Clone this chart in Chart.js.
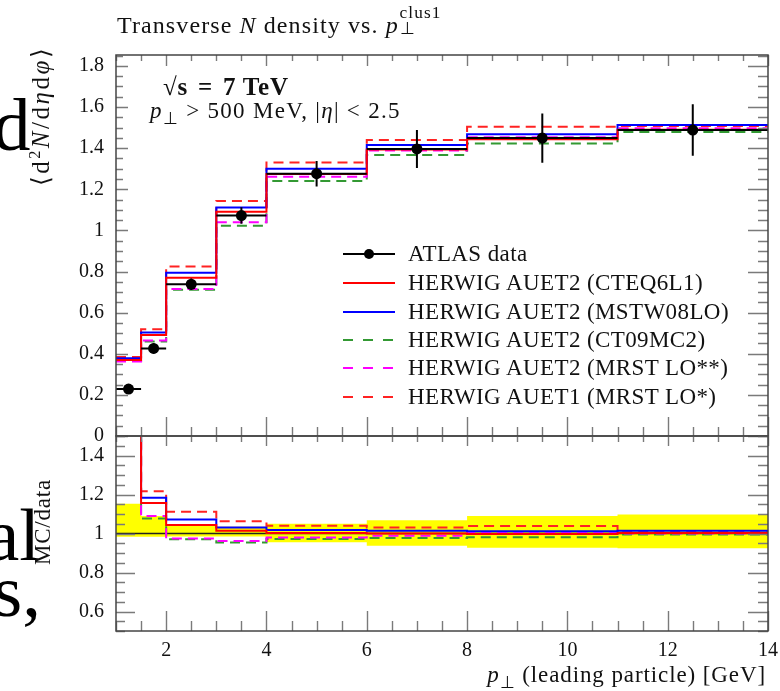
<!DOCTYPE html>
<html><head><meta charset="utf-8">
<script src="https://cdn.jsdelivr.net/npm/chart.js@4.4.1/dist/chart.umd.min.js"></script>
<style>
html,body{margin:0;padding:0;background:#fff;width:780px;height:691px;overflow:hidden;}
#wrap{position:relative;width:780px;height:691px;font-family:"Liberation Serif",serif;color:#111;}
canvas{position:absolute;left:0;}
#cMain{top:0;}
#cRatio{top:400px;}
.t{position:absolute;white-space:nowrap;line-height:1;}
.big{font-size:75px;color:#000;}
.ss{position:relative;display:inline-block;width:1.9em;height:1em;}
.ss .sp{position:absolute;left:0.05em;top:-0.3em;font-size:0.72em;}
.ss .sb{position:absolute;left:0.05em;top:0.62em;font-size:0.72em;}
</style></head>
<body><div id="wrap">
<canvas id="cMain" width="780" height="470"></canvas>
<canvas id="cRatio" width="780" height="291"></canvas>

<div class="t big" style="left:-7px;top:87px;">d</div>
<div class="t big" style="left:-14px;top:497px;">al</div>
<div class="t big" style="left:-7px;top:553px;">s,</div>

<div class="t" style="left:117px;top:9px;font-size:24px;letter-spacing:1.1px;">Transverse <i>N</i> density vs. <i>p</i><span class="ss"><span class="sp">clus1</span><span class="sb">⊥</span></span></div>

<div class="t" style="left:163px;top:74px;font-size:25px;font-weight:bold;letter-spacing:0.8px;">√s&#8202; = &#8202;7 TeV</div>
<div class="t" style="left:150px;top:99px;font-size:23px;letter-spacing:1.3px;"><i>p</i><sub style="font-size:0.72em;">⊥</sub> &gt; 500 MeV, |<i>η</i>| &lt; 2.5</div>

<div class="t" style="left:40px;top:116px;font-size:25px;letter-spacing:2.5px;transform:translate(-50%,-50%) rotate(-90deg);">⟨d<sup style="font-size:0.65em;">2</sup><i>N</i>/d<i>η</i>d<i>φ</i>⟩</div>
<div class="t" style="left:42px;top:522px;font-size:23px;letter-spacing:0.8px;transform:translate(-50%,-50%) rotate(-90deg);">MC/data</div>
<div class="t" style="right:14px;top:663px;font-size:23px;letter-spacing:0.9px;"><i>p</i><sub style="font-size:0.72em;">⊥</sub> (leading particle) [GeV]</div>

<svg class="t" style="left:336px;top:240px;" width="66" height="170">
  <line x1="7" y1="14" x2="59" y2="14" stroke="#000" stroke-width="2"/>
  <circle cx="33" cy="14" r="5" fill="#000"/>
  <line x1="7" y1="43" x2="59" y2="43" stroke="#ff0000" stroke-width="2"/>
  <line x1="7" y1="72" x2="59" y2="72" stroke="#0000ff" stroke-width="2"/>
  <line x1="7" y1="100" x2="59" y2="100" stroke="#339933" stroke-width="2" stroke-dasharray="10,10"/>
  <line x1="7" y1="128" x2="59" y2="128" stroke="#ff00ff" stroke-width="2" stroke-dasharray="10,10"/>
  <line x1="7" y1="157" x2="59" y2="157" stroke="#ff2222" stroke-width="2" stroke-dasharray="10,10"/>
</svg>
<div class="t" style="left:408px;top:242px;font-size:23px;letter-spacing:0.4px;">ATLAS data</div>
<div class="t" style="left:408px;top:271px;font-size:23px;letter-spacing:0.4px;">HERWIG AUET2 (CTEQ6L1)</div>
<div class="t" style="left:408px;top:300px;font-size:23px;letter-spacing:0.4px;">HERWIG AUET2 (MSTW08LO)</div>
<div class="t" style="left:408px;top:328px;font-size:23px;letter-spacing:0.4px;">HERWIG AUET2 (CT09MC2)</div>
<div class="t" style="left:408px;top:356px;font-size:23px;letter-spacing:0.4px;">HERWIG AUET2 (MRST LO**)</div>
<div class="t" style="left:408px;top:385px;font-size:23px;letter-spacing:0.4px;">HERWIG AUET1 (MRST LO*)</div>
</div>

<script>
// ---- data ----
const binEdges   = [1, 1.5, 2, 3, 4, 6, 8, 11, 14];
const binCentres = [1.25, 1.75, 2.5, 3.5, 5, 7, 9.5, 12.5];
const atlasData  = [0.228, 0.426, 0.738, 1.072, 1.276, 1.396, 1.449, 1.488];
const atlasErr   = [0.022, 0.025, 0.028, 0.040, 0.062, 0.092, 0.120, 0.125];

const herwigCTEQ6L1  = [0.370, 0.491, 0.770, 1.091, 1.274, 1.394, 1.443, 1.490];
const herwigMSTW08LO = [0.378, 0.503, 0.794, 1.111, 1.300, 1.415, 1.467, 1.512];
const herwigCT09MC2  = [0.366, 0.460, 0.711, 1.023, 1.240, 1.367, 1.422, 1.478];
const herwigMRSTLO2  = [0.362, 0.464, 0.715, 1.039, 1.261, 1.388, 1.453, 1.497];
const herwigAUET1    = [0.384, 0.519, 0.824, 1.143, 1.330, 1.440, 1.504, 1.508];

const ratioCTEQ6L1  = [1.62, 1.157, 1.044, 1.014, 1.002, 1.000, 0.997, 1.002];
const ratioMSTW08LO = [1.66, 1.183, 1.072, 1.031, 1.018, 1.014, 1.012, 1.014];
const ratioCT09MC2  = [1.60, 1.077, 0.970, 0.954, 0.972, 0.977, 0.981, 0.995];
const ratioMRSTLO2  = [1.59, 1.090, 0.974, 0.962, 0.980, 0.988, 1.005, 1.000];
const ratioAUET1    = [1.68, 1.217, 1.111, 1.063, 1.040, 1.031, 1.038, 1.008];
const ratioDataLine = [1, 1, 1, 1, 1, 1, 1, 1];
const ratioBandHi   = [1.153, 1.090, 1.040, 1.035, 1.050, 1.068, 1.090, 1.098];
const ratioBandLo   = [0.983, 0.983, 0.985, 0.985, 0.955, 0.937, 0.927, 0.925];

const xTickValues = [2, 4, 6, 8, 10, 12, 14];
const xTickLabels = ['2', '4', '6', '8', '10', '12', '14'];
const mainYTickValues = [0, 0.2, 0.4, 0.6, 0.8, 1, 1.2, 1.4, 1.6, 1.8];
const mainYTickLabels = ['0', '0.2', '0.4', '0.6', '0.8', '1', '1.2', '1.4', '1.6', '1.8'];
const ratioYTickValues = [0.6, 0.8, 1, 1.2, 1.4];
const ratioYTickLabels = ['0.6', '0.8', '1', '1.2', '1.4'];

// ---- helpers ----
function histPoints(vals){
  return binEdges.map((e, i) => ({x: e, y: vals[Math.min(i, vals.length - 1)]}));
}
function errorBarPoints(){
  const pts = [];
  binCentres.forEach((c, i) => {
    pts.push({x: binEdges[i], y: atlasData[i]}, {x: binEdges[i + 1], y: atlasData[i]}, {x: binEdges[i + 1], y: null});
    pts.push({x: c, y: atlasData[i] - atlasErr[i]}, {x: c, y: atlasData[i] + atlasErr[i]}, {x: c, y: null});
  });
  return pts;
}
function histDS(label, vals, color, dash){
  return {label, data: histPoints(vals), borderColor: color, borderWidth: 2, borderDash: dash || [],
    stepped: true, pointRadius: 0, fill: false, borderCapStyle: 'butt'};
}
function minorList(lo, hi, step){
  const out = [];
  for (let k = 0; lo + k * step <= hi + 1e-9; k++) out.push(+(lo + k * step).toFixed(4));
  return out;
}
const FONT = {family: 'Liberation Serif', size: 20};
const noPad = s => { s.paddingLeft = 0; s.paddingRight = 0; s.paddingTop = 0; s.paddingBottom = 0; };

const frameTicks = {
  id: 'frameTicks',
  afterDatasetsDraw(chart, args, o){
    const {ctx, chartArea: a} = chart;
    const xs = chart.scales.x, ys = chart.scales.y;
    const isMaj = (list, v) => list.some(m => Math.abs(m - v) < 1e-6);
    ctx.save();
    ctx.strokeStyle = '#7a7a7a';
    ctx.lineWidth = 1.4;
    ctx.beginPath();
    o.xMinor.forEach(v => {
      const p = Math.round(xs.getPixelForValue(v)) + 0.5;
      const m = isMaj(o.xMajor, v);
      ctx.moveTo(p, a.top); ctx.lineTo(p, a.top + (m ? o.topMaj : o.topMin));
      ctx.moveTo(p, a.bottom); ctx.lineTo(p, a.bottom - (m ? o.botMaj : o.botMin));
    });
    o.yMinor.forEach(v => {
      const p = Math.round(ys.getPixelForValue(v)) + 0.5;
      const m = isMaj(o.yMajor, v);
      ctx.moveTo(a.left, p); ctx.lineTo(a.left + (m ? o.leftMaj : o.leftMin), p);
      ctx.moveTo(a.right, p); ctx.lineTo(a.right - (m ? o.rightMaj : o.rightMin), p);
    });
    ctx.stroke();
    ctx.strokeStyle = '#444';
    ctx.lineWidth = 1.5;
    ctx.strokeRect(a.left, a.top, a.right - a.left, a.bottom - a.top);
    ctx.restore();
  }
};

const common = {
  responsive: false, animation: false, events: [],
  plugins: {legend: {display: false}, tooltip: {enabled: false}}
};

// ---- main panel ----
new Chart(document.getElementById('cMain'), {
  type: 'line',
  data: {datasets: [
    {label: 'ATLAS data', data: binCentres.map((x, i) => ({x, y: atlasData[i]})), showLine: false,
     pointRadius: 5.5, pointBackgroundColor: '#000', pointBorderWidth: 0},
    {label: 'ATLAS errors', data: errorBarPoints(), borderColor: '#000', borderWidth: 2, pointRadius: 0, spanGaps: false},
    histDS('HERWIG AUET2 (CTEQ6L1)', herwigCTEQ6L1, '#ff0000'),
    histDS('HERWIG AUET2 (MSTW08LO)', herwigMSTW08LO, '#0000ff'),
    histDS('HERWIG AUET2 (MRST LO**)', herwigMRSTLO2, '#ff00ff', [10, 6]),
    histDS('HERWIG AUET2 (CT09MC2)', herwigCT09MC2, '#339933', [10, 6]),
    histDS('HERWIG AUET1 (MRST LO*)', herwigAUET1, '#ff2222', [10, 6])
  ]},
  options: Object.assign({}, common, {
    layout: {padding: {left: 0, right: 12, top: 55, bottom: 34}},
    scales: {
      x: {type: 'linear', min: 1, max: 14, display: false},
      y: {type: 'linear', min: 0, max: 1.853,
        afterBuildTicks: s => { s.ticks = mainYTickValues.map(v => ({value: v})); },
        afterFit: s => { s.width = 116; noPad(s); },
        ticks: {callback: (v, i) => mainYTickLabels[i], font: FONT, color: '#111', padding: 12, autoSkip: false},
        grid: {display: false, drawTicks: false}, border: {display: false}}
    },
    plugins: Object.assign({}, common.plugins, {frameTicks: {
      xMajor: xTickValues, xMinor: minorList(1, 14, 0.5),
      yMajor: mainYTickValues, yMinor: minorList(0, 1.85, 0.05),
      topMaj: 11, topMin: 6, botMaj: 19, botMin: 9, leftMaj: 12, leftMin: 7, rightMaj: 20, rightMin: 10}})
  }),
  plugins: [frameTicks]
});

// ---- ratio panel ----
new Chart(document.getElementById('cRatio'), {
  type: 'line',
  data: {datasets: [
    histDS('HERWIG AUET2 (CTEQ6L1)', ratioCTEQ6L1, '#ff0000'),
    histDS('HERWIG AUET2 (MSTW08LO)', ratioMSTW08LO, '#0000ff'),
    histDS('HERWIG AUET2 (MRST LO**)', ratioMRSTLO2, '#ff00ff', [10, 6]),
    histDS('HERWIG AUET2 (CT09MC2)', ratioCT09MC2, '#339933', [10, 6]),
    histDS('HERWIG AUET1 (MRST LO*)', ratioAUET1, '#ff2222', [10, 6]),
    Object.assign(histDS('data', ratioDataLine, '#222'), {borderWidth: 1.3}),
    {label: 'band hi', data: histPoints(ratioBandHi), stepped: true, pointRadius: 0,
     borderColor: 'rgba(0,0,0,0)', backgroundColor: '#ffff00', fill: '+1'},
    {label: 'band lo', data: histPoints(ratioBandLo), stepped: true, pointRadius: 0,
     borderColor: 'rgba(0,0,0,0)', fill: false}
  ]},
  options: Object.assign({}, common, {
    layout: {padding: {left: 0, right: 12, top: 36, bottom: 0}},
    scales: {
      x: {type: 'linear', min: 1, max: 14,
        afterBuildTicks: s => { s.ticks = xTickValues.map(v => ({value: v})); },
        afterFit: s => { s.height = 60; noPad(s); },
        ticks: {callback: (v, i) => xTickLabels[i], font: FONT, color: '#111', padding: 8, maxRotation: 0, autoSkip: false},
        grid: {display: false, drawTicks: false}, border: {display: false}},
      y: {type: 'linear', min: 0.5, max: 1.5,
        afterBuildTicks: s => { s.ticks = ratioYTickValues.map(v => ({value: v})); },
        afterFit: s => { s.width = 116; noPad(s); },
        ticks: {callback: (v, i) => ratioYTickLabels[i], font: FONT, color: '#111', padding: 12, autoSkip: false},
        grid: {display: false, drawTicks: false}, border: {display: false}}
    },
    plugins: Object.assign({}, common.plugins, {frameTicks: {
      xMajor: xTickValues, xMinor: minorList(1, 14, 0.5),
      yMajor: ratioYTickValues, yMinor: minorList(0.5, 1.5, 0.05),
      topMaj: 10, topMin: 6, botMaj: 20, botMin: 10, leftMaj: 19, leftMin: 9, rightMaj: 20, rightMin: 10}})
  }),
  plugins: [frameTicks]
});
</script>
</body></html>
